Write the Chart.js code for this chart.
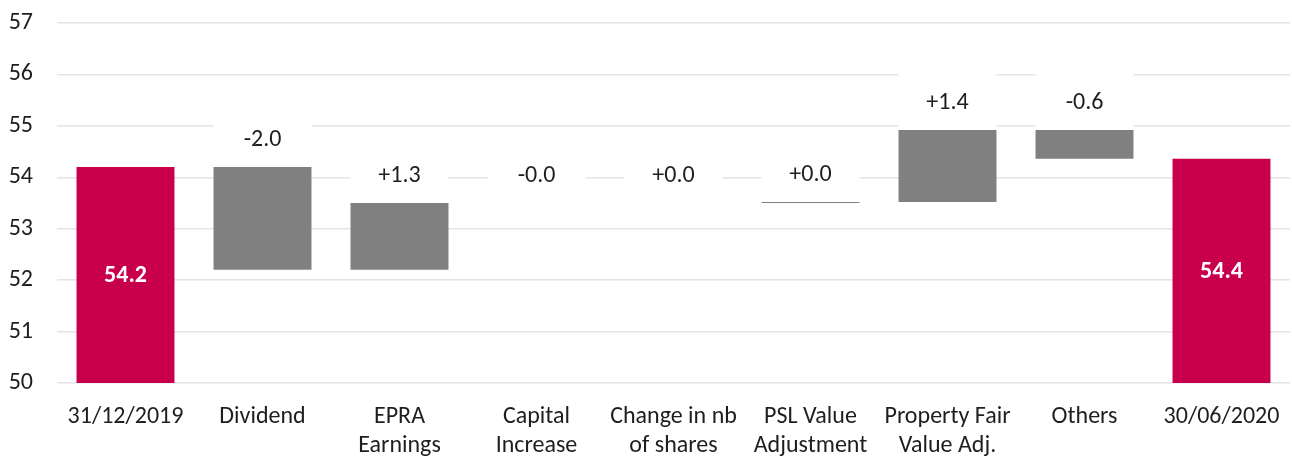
<!DOCTYPE html>
<html>
<head>
<meta charset="utf-8">
<script src="https://cdn.jsdelivr.net/npm/chart.js@4"></script>
<style>
  html, body { margin: 0; padding: 0; background: #ffffff; }
  #wrap { width: 1292px; height: 457px; position: relative; }
</style>
</head>
<body>
<div id="wrap"><canvas id="nav"></canvas></div>
<script>
// NAV per share bridge, 31/12/2019 -> 30/06/2020
const categories = [
  ['31/12/2019'], ['Dividend'], ['EPRA', 'Earnings'], ['Capital', 'Increase'],
  ['Change in nb', 'of shares'], ['PSL Value', 'Adjustment'], ['Property Fair', 'Value Adj.'],
  ['Others'], ['30/06/2020']
];
const openingValue = 54.2;
const movements = [-2.0, 1.3, -0.001, 0.001, 0.02, 1.40, -0.56];
const closingValue = 54.36;
const yTicks = [50, 51, 52, 53, 54, 55, 56, 57];

const TOTAL_COLOR = '#C8004B';
const STEP_COLOR = '#808080';
const TEXT_COLOR = '#1e1e1e';
const FONT = 'Carlito, Lato, "Open Sans", sans-serif';
const BASE = yTicks[0];

// floating bars: [from, to] for every step of the bridge
const ranges = [[BASE, openingValue]];
let running = openingValue;
movements.forEach(m => {
  ranges.push([running, running + m]);
  running += m;
});
ranges.push([BASE, closingValue]);

const colors = ranges.map((_, i) => (i === 0 || i === ranges.length - 1) ? TOTAL_COLOR : STEP_COLOR);

function signed(v) {
  return (v >= 0 ? '+' : '-') + Math.abs(v).toFixed(1);
}

// movement labels sit on white boxes just above each step, totals get a white label inside
const labelPlugin = {
  id: 'bridgeLabels',
  beforeDatasetsDraw(chart) {
    const { ctx } = chart;
    const y = chart.scales.y;
    const meta = chart.getDatasetMeta(0);
    ctx.save();
    ctx.fillStyle = '#ffffff';
    movements.forEach((m, k) => {
      const bar = meta.data[k + 1];
      const r = ranges[k + 1];
      const top = Math.max(r[0], r[1]);
      const yTop = y.getPixelForValue(top + 1.15);
      const yBot = y.getPixelForValue(top);
      ctx.fillRect(bar.x - bar.width / 2, yTop, bar.width, yBot - yTop);
    });
    ctx.restore();
  },
  afterDatasetsDraw(chart) {
    const { ctx } = chart;
    const y = chart.scales.y;
    const meta = chart.getDatasetMeta(0);
    ctx.save();
    ctx.textAlign = 'center';
    ctx.textBaseline = 'middle';
    ctx.font = '24px ' + FONT;
    ctx.fillStyle = TEXT_COLOR;
    movements.forEach((m, k) => {
      const bar = meta.data[k + 1];
      const r = ranges[k + 1];
      const top = Math.max(r[0], r[1]);
      const yc = (y.getPixelForValue(top + 1.15) + y.getPixelForValue(top)) / 2 + 3;
      ctx.fillText(signed(m), bar.x, yc);
    });
    ctx.font = 'bold 24px ' + FONT;
    ctx.fillStyle = '#ffffff';
    [0, ranges.length - 1].forEach(i => {
      const bar = meta.data[i];
      const v = ranges[i][1];
      const yc = (y.getPixelForValue(v) + y.getPixelForValue(BASE)) / 2 + 1;
      ctx.fillText(v.toFixed(1), bar.x, yc);
    });
    ctx.restore();
  }
};

new Chart(document.getElementById('nav'), {
  type: 'bar',
  data: {
    labels: categories,
    datasets: [{
      data: ranges,
      backgroundColor: colors,
      borderWidth: 0,
      barPercentage: 0.715,
      categoryPercentage: 1.0
    }]
  },
  options: {
    responsive: true,
    maintainAspectRatio: false,
    animation: false,
    layout: { padding: { top: 23, right: 2, left: 0, bottom: 0 } },
    plugins: { legend: { display: false }, tooltip: { enabled: false } },
    scales: {
      x: {
        grid: { display: true, color: 'rgba(0,0,0,0)', drawTicks: true, tickLength: 20, tickColor: 'rgba(0,0,0,0)' },
        border: { display: false },
        ticks: {
          color: TEXT_COLOR,
          font: { family: FONT, size: 24, lineHeight: 1.2 },
          padding: 0,
          maxRotation: 0,
          autoSkip: false
        },
        afterFit(scale) { scale.height = 74; }
      },
      y: {
        min: yTicks[0],
        max: yTicks[yTicks.length - 1],
        afterBuildTicks(scale) { scale.ticks = yTicks.map(v => ({ value: v })); },
        grid: { color: '#e4e4ea', lineWidth: 1.5, drawTicks: true, tickLength: 24, tickColor: 'rgba(0,0,0,0)' },
        border: { display: false },
        ticks: {
          color: TEXT_COLOR,
          font: { family: FONT, size: 24 },
          padding: 0
        },
        afterFit(scale) { scale.width = 57; }
      }
    }
  },
  plugins: [labelPlugin]
});
</script>
</body>
</html>
